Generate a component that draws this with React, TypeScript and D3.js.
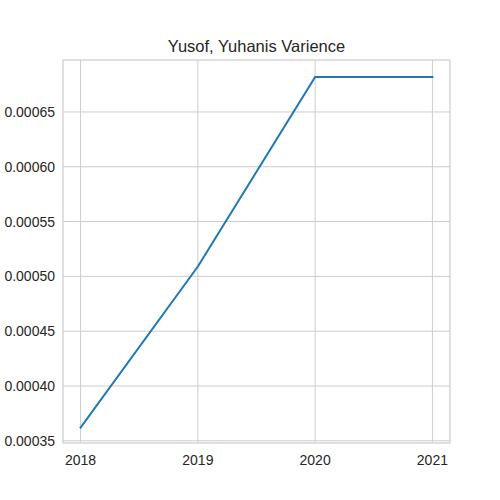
import React from "react";
import * as d3 from "d3";

const years = [2018, 2019, 2020, 2021];
const values = [0.000362, 0.000509, 0.000682, 0.000682];
const yTicks = [0.00035, 0.0004, 0.00045, 0.0005, 0.00055, 0.0006, 0.00065];
const title = "Yusof, Yuhanis Varience";

export default function App() {
  const L = 63, R = 450, T = 60, B = 443;
  const x = d3.scaleLinear().domain([2017.85, 2021.15]).range([L, R]);
  const y = d3.scaleLinear().domain([0.000348, 0.0006974]).range([B, T]);
  const line = d3.line<number>().x((_, i) => x(years[i])).y((d) => y(d));
  const font = "Liberation Sans, Arial, sans-serif";
  return (
    <svg width={500} height={500} style={{ position: "absolute", left: 0, top: 0, background: "#fff" }}>
      {years.map((yr) => (
        <line key={yr} x1={x(yr)} x2={x(yr)} y1={T} y2={B} stroke="#cccccc" strokeWidth={1} />
      ))}
      {yTicks.map((t) => (
        <line key={t} x1={L} x2={R} y1={y(t)} y2={y(t)} stroke="#cccccc" strokeWidth={1} />
      ))}
      <rect x={L} y={T} width={R - L} height={B - T} fill="none" stroke="#cccccc" strokeWidth={1.2} />
      <path d={line(values) || ""} fill="none" stroke="#1f77b4" strokeWidth={2} strokeLinecap="square" />
      {years.map((yr) => (
        <text key={yr} x={x(yr)} y={B + 22} textAnchor="middle" fontFamily={font} fontSize={14} fill="#262626">{yr}</text>
      ))}
      {yTicks.map((t) => (
        <text key={t} x={L - 8} y={y(t) + 5} textAnchor="end" fontFamily={font} fontSize={14} fill="#262626">{t.toFixed(5)}</text>
      ))}
      <text x={(L + R) / 2} y={T - 8} textAnchor="middle" fontFamily={font} fontSize={16.5} fill="#262626">{title}</text>
    </svg>
  );
}
